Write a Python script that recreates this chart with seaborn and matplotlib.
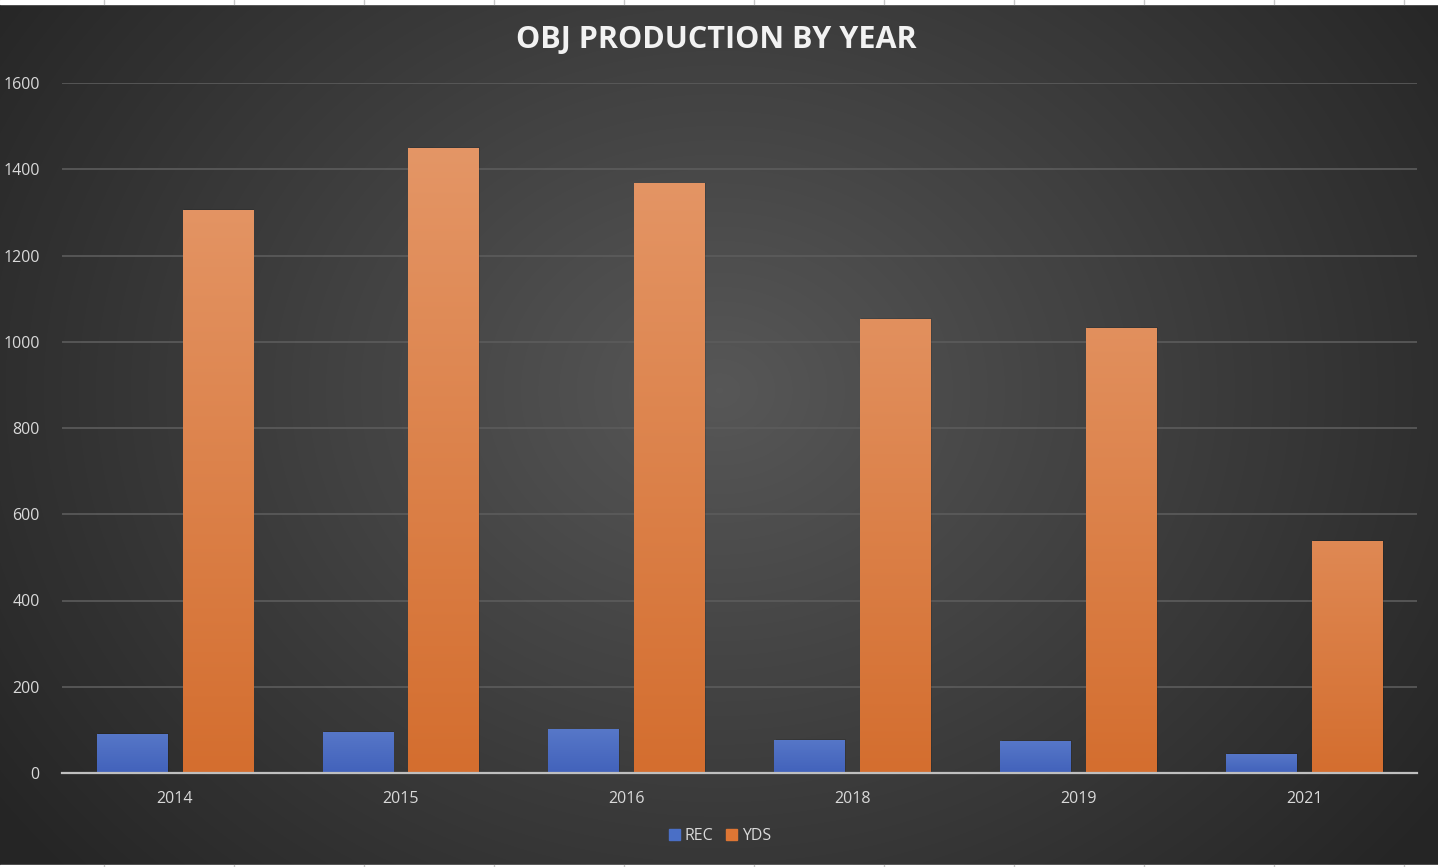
import numpy as np
import pandas as pd
import matplotlib
matplotlib.use("Agg")
import matplotlib.pyplot as plt
import seaborn as sns
from matplotlib.colors import LinearSegmentedColormap

years = ["2014", "2015", "2016", "2018", "2019", "2021"]
rec = [91, 96, 101, 77, 74, 44]
yds = [1305, 1450, 1367, 1052, 1033, 538]
series = ["REC", "YDS"]
yticks = [0, 200, 400, 600, 800, 1000, 1200, 1400, 1600]

df = pd.DataFrame({
    "Year": years * 2,
    "Series": ["REC"] * len(years) + ["YDS"] * len(years),
    "Value": rec + yds,
})

sns.set_theme(style="dark")
plt.rcParams["font.family"] = ["Open Sans", "DejaVu Sans"]

W, H = 1438, 867
fig = plt.figure(figsize=(W / 100, H / 100), dpi=100)

# background radial gradient
bg = fig.add_axes([0, 0, 1, 1], zorder=-10)
yy, xx = np.mgrid[0:H, 0:W]
cx, cy = W * 0.5, H * 0.45
r = np.sqrt(((xx - cx) / (W * 0.62)) ** 2 + ((yy - cy) / (H * 0.85)) ** 2)
r = np.clip(r, 0, 1)
cmap_bg = LinearSegmentedColormap.from_list("bg", ["#575757", "#3e3e3e", "#252525"])
bg.imshow(r, cmap=cmap_bg, aspect="auto", extent=[0, W, H, 0], vmin=0, vmax=1)
# spreadsheet strips at top and bottom
bg.add_patch(plt.Rectangle((0, 0), W, 4, color="white", zorder=2))
bg.add_patch(plt.Rectangle((0, H - 2), W, 2, color="white", zorder=2))
for x in np.arange(104, W, 130):
    bg.plot([x, x], [0, 4], color="#c8c8c8", lw=1, zorder=3)
    bg.plot([x, x], [H - 2, H], color="#c8c8c8", lw=1, zorder=3)
bg.set_xlim(0, W)
bg.set_ylim(H, 0)
bg.axis("off")

left, right = 62 / W, 1417 / W
bottom, top = (H - 773) / H, (H - 83) / H
ax = fig.add_axes([left, bottom, right - left, top - bottom])
ax.set_facecolor("none")

palette = {"REC": "#4a6fc6", "YDS": "#de7634"}
sns.barplot(data=df, x="Year", y="Value", hue="Series", palette=palette,
            width=0.76, gap=0.18, ax=ax, legend=False, saturation=1,
            edgecolor="none", linewidth=0, zorder=3)

# gradient fill on bars
grads = {
    "REC": LinearSegmentedColormap.from_list("rec", ["#4262bb", "#6d8ed6"]),
    "YDS": LinearSegmentedColormap.from_list("yds", ["#d46e2f", "#e59869"]),
}
bars = [p for p in ax.patches if p.get_height() > 0]
n = len(years)
for i, p in enumerate(bars[: 2 * n]):
    s = "REC" if i < n else "YDS"
    x0, w, h = p.get_x(), p.get_width(), p.get_height()
    # soft shadow
    ax.add_patch(plt.Rectangle((x0 + 0.006, 0), w, h + 2, color="black",
                               alpha=0.12, zorder=2, lw=0))
    grad = np.linspace(0, 1, 256).reshape(-1, 1)
    span = h / 1600
    g = grad * (0.45 + 0.55 * span)
    im = ax.imshow(g, cmap=grads[s], aspect="auto", extent=[x0, x0 + w, 0, h],
                   origin="lower", vmin=0, vmax=1, zorder=4)
    im.set_clip_path(p)

ax.set_xlim(-0.5, n - 0.5)
ax.set_ylim(0, 1600)
ax.set_yticks(yticks)
ax.set_yticklabels([str(t) for t in yticks])
ax.set_xlabel("")
ax.set_ylabel("")
ax.grid(axis="y", color="#5c5c5c", lw=1.2, zorder=0)
ax.grid(axis="x", visible=False)
ax.set_axisbelow(True)
for sp in ["top", "right", "left"]:
    ax.spines[sp].set_visible(False)
ax.spines["bottom"].set_visible(True)
ax.spines["bottom"].set_color("#bfbfbf")
ax.spines["bottom"].set_linewidth(1.6)
ax.spines["bottom"].set_zorder(6)
ax.tick_params(axis="both", colors="#d9d9d9", labelsize=11.5, length=0)
ax.tick_params(axis="x", pad=13)
ax.tick_params(axis="y", pad=16)
for lab in ax.get_yticklabels():
    lab.set_horizontalalignment("right")

title = "OBJ PRODUCTION BY YEAR"
fig.text(716 / W, 1 - 40 / H, title, color="#f2f2f2",
         fontsize=22, fontweight="bold", ha="center", va="center")

handles = [plt.Rectangle((0, 0), 1, 1, color=palette[s]) for s in series]
fig.legend(handles, series, loc="center", bbox_to_anchor=(720 / W, 1 - 836 / H),
           ncol=2, frameon=False, fontsize=11.5, labelcolor="#d9d9d9",
           handlelength=0.7, handleheight=0.7, handletextpad=0.3,
           columnspacing=0.8)

fig.savefig("out.png", dpi=100)
